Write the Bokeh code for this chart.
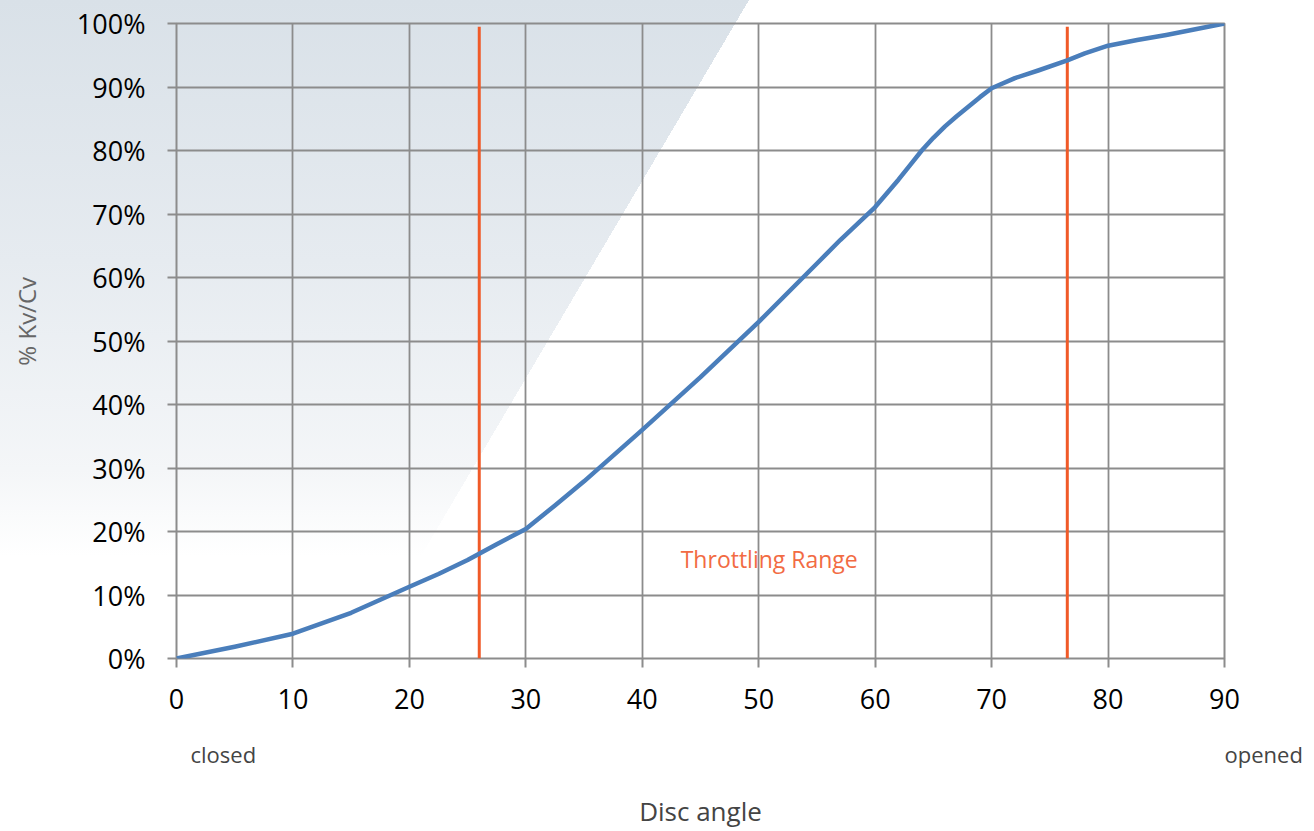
import math
import numpy as np
from bokeh.plotting import figure
from bokeh.models import (Range1d, FixedTicker, NumeralTickFormatter, Label, LinearAxis,
                          ColumnDataSource)
from bokeh.embed import file_html
from bokeh.resources import INLINE

# ---- data ----
disc_angle = [0, 5, 10, 15, 20, 22.5, 25, 27.5, 30, 32.5, 35, 40, 45, 50, 55, 57,
              60, 62, 63, 64, 65, 66, 67, 68, 69, 70, 72, 74, 76.5, 78, 80, 82.5,
              85, 87.5, 90]
kv_pct = [0.0, 1.85, 3.9, 7.2, 11.3, 13.3, 15.5, 18.0, 20.4, 24.1, 27.9, 36.0, 44.3,
          53.0, 62.2, 65.9, 71.1, 75.4, 77.7, 80.0, 82.0, 83.8, 85.4, 86.9, 88.4,
          89.8, 91.4, 92.6, 94.2, 95.3, 96.5, 97.4, 98.2, 99.1, 100.0]
throttle_bounds = [26, 76.5]
x_ticks = [0, 10, 20, 30, 40, 50, 60, 70, 80, 90]
y_ticks_pct = [0, 10, 20, 30, 40, 50, 60, 70, 80, 90, 100]
end_positions = [1.2, 90]
end_labels = ["closed", "opened"]
y_title_pos = 0.531

W, H = 1314, 831
FONT = "Open Sans"
GRID = "#8c8c8c"

p = figure(width=W, height=H, output_backend="svg", toolbar_location=None,
           x_range=Range1d(0, 90), y_range=Range1d(0, 1))
p.min_border_left = 176
p.min_border_right = 90
p.min_border_top = 23
p.min_border_bottom = 172
p.background_fill_color = None
p.border_fill_color = None
p.outline_line_color = GRID
p.outline_line_width = 2

# background gradient wedge via CSS on the plot host element
x0 = 749.0          # diagonal edge meets the top edge here
slope = 0.59        # leftward shift per pixel downwards
nx, ny = 1.0, slope
nn = math.hypot(nx, ny)
dx, dy = nx / nn, ny / nn
theta = math.degrees(math.atan2(dx, -dy))
L = W * abs(dx) + H * abs(dy)
t = (x0 - W / 2) * dx + (0 - H / 2) * dy + L / 2
p.styles = {
    "background-image": (
        f"linear-gradient({theta:.3f}deg, rgba(255,255,255,0) {t:.1f}px, #ffffff {t:.1f}px), "
        "linear-gradient(180deg, #d9e1e8 0px, #e6ebf0 260px, #f4f6f8 470px, #ffffff 556px)"
    )
}

# main axes
for ax in (p.xaxis[0], p.yaxis[0]):
    ax.axis_line_color = None
    ax.major_tick_line_color = GRID
    ax.major_tick_line_width = 2
    ax.major_tick_in = 0
    ax.major_tick_out = 9
    ax.minor_tick_line_color = None
    ax.major_label_text_font = FONT
    ax.major_label_text_font_size = "27px"
    ax.major_label_text_color = "#000000"

p.xaxis.ticker = FixedTicker(ticks=x_ticks)
p.xaxis.major_label_standoff = 21
p.yaxis.ticker = FixedTicker(ticks=[v / 100 for v in y_ticks_pct])
p.yaxis.formatter = NumeralTickFormatter(format="0%")
p.yaxis.major_label_standoff = 22

# secondary bottom axis: "closed" / "opened" end markers and the axis title
ends_axis = LinearAxis(
    ticker=FixedTicker(ticks=end_positions),
    major_label_overrides={k: v for k, v in zip(end_positions, end_labels)},
    major_label_orientation=-1e-6,
    axis_line_color=None, major_tick_line_color=None, minor_tick_line_color=None,
    major_tick_out=0, major_tick_in=0,
    major_label_standoff=42,
    major_label_text_font=FONT, major_label_text_font_size="22px",
    major_label_text_color="#444444",
    axis_label="Disc angle", axis_label_standoff=6,
    axis_label_text_font=FONT, axis_label_text_font_style="normal",
    axis_label_text_font_size="26px", axis_label_text_color="#444444",
)
p.add_layout(ends_axis, "below")

# secondary left axis carrying the vertical title
ytitle_axis = LinearAxis(
    ticker=FixedTicker(ticks=[y_title_pos]),
    major_label_overrides={y_title_pos: "% Kv/Cv"},
    major_label_orientation="vertical",
    axis_line_color=None, major_tick_line_color=None, minor_tick_line_color=None,
    major_tick_out=0, major_tick_in=0,
    major_label_standoff=30,
    major_label_text_font=FONT, major_label_text_font_size="24px",
    major_label_text_color="#666666",
)
p.add_layout(ytitle_axis, "left")

p.xgrid.ticker = FixedTicker(ticks=x_ticks)
p.ygrid.ticker = FixedTicker(ticks=[v / 100 for v in y_ticks_pct])
for g in (p.xgrid[0], p.ygrid[0]):
    g.grid_line_color = GRID
    g.grid_line_width = 1.8

# throttling range boundaries
p.segment(x0=throttle_bounds, y0=[0, 0], x1=throttle_bounds, y1=[0.995, 0.995],
          line_color="#f05a28", line_width=3)

# curve
src = ColumnDataSource(dict(x=disc_angle, y=np.array(kv_pct) / 100.0))
p.line("x", "y", source=src, line_color="#4a7ebb", line_width=4.5, line_join="round",
       line_cap="round")

p.add_layout(Label(x=43.3, y=0.157, text="Throttling Range", text_font=FONT,
                   text_font_size="23px", text_color="#f26b43", text_align="left",
                   text_baseline="alphabetic"))

open("out.html", "w").write(file_html(p, INLINE))
